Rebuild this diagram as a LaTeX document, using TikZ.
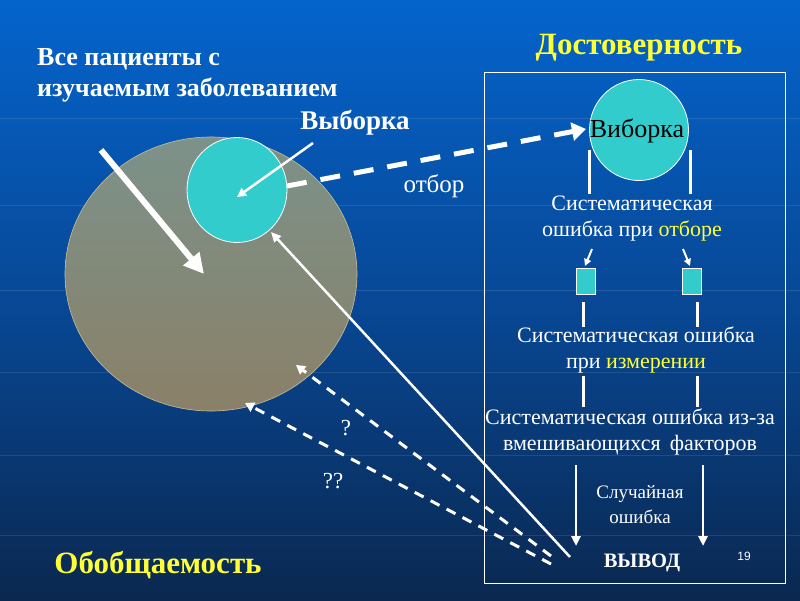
\documentclass[tikz,border=0pt]{standalone}
\usepackage{fontspec}
\setmainfont{Liberation Serif}
\newfontfamily\numfont{Liberation Sans}
\usetikzlibrary{arrows.meta,shapes.geometric}
\definecolor{teal1}{RGB}{51,204,204}
\definecolor{yel}{RGB}{255,255,51}
\definecolor{bgtop}{RGB}{4,100,204}
\definecolor{bgmid}{RGB}{8,72,150}
\definecolor{bgbot}{RGB}{10,40,80}
\tikzset{
  wline/.style={draw=white,line width=3pt},
  warrow/.style={draw=white,line width=2.5pt,-{Triangle[length=9pt,width=9pt]}},
  dasharrow/.style={draw=white,line width=3pt,dash pattern=on 10pt off 8pt,-{Triangle[length=9pt,width=10pt]}},
  wtext/.style={text=white,font=\fontsize{22}{26}\selectfont,align=center,inner sep=0pt},
  ytitle/.style={text=yel,font=\fontsize{31}{34}\selectfont\bfseries,inner sep=0pt},
  tealbox/.style={fill=teal1,draw=white,line width=0.8pt}
}
\begin{document}
\begin{tikzpicture}[x=1pt,y=-1pt]
\useasboundingbox (0,0) rectangle (800,600);
\shade[top color=bgtop,bottom color=bgbot,middle color=bgmid] (0,0) rectangle (800,600);
\foreach \yy in {118,205,290,372,455,535}
  \draw[white,opacity=0.1,line width=0.8pt] (0,\yy) -- (800,\yy);
% big ellipse
\shade[top color={rgb,255:red,124;green,146;blue,138},bottom color={rgb,255:red,138;green,128;blue,104},draw={rgb,255:red,200;green,190;blue,150},line width=0.6pt]
  (211,274) ellipse [x radius=146, y radius=137];
\node[ellipse,tealbox,minimum width=100pt,minimum height=105pt,inner sep=0pt] (small) at (237,190) {};
\coordinate (smallc) at (237,197);
% texts left
\node[text=white,font=\fontsize{26}{31}\selectfont\bfseries,align=left,anchor=west,inner sep=0pt] (all) at (37,75) {Все пациенты с\\изучаемым заболеванием};
\node[text=white,font=\fontsize{27}{30}\selectfont\bfseries,inner sep=0pt] (vyb) at (355,123) {Выборка};
\coordinate (vybs) at (313,143);
\draw[warrow] (vybs) -- (smallc);
% thick arrow
\coordinate (ta) at (101,150);
\coordinate (tb) at (204,274);
\draw[white,line width=6pt,-{Triangle[length=20pt,width=20pt]}] (ta) -- (tb);
% titles
\node[ytitle] (dost) at (639,48) {Достоверность};
\node[ytitle] (obob) at (158,565) {Обобщаемость};
% right frame
\draw[white,line width=1pt] (484,72) rectangle (785,583);
\node[ellipse,tealbox,minimum width=99pt,minimum height=101pt,inner sep=0pt] (big2) at (639,130) {};
\node[text=black,font=\fontsize{26}{30}\selectfont,inner sep=0pt] (vib) at (637,131) {Виборка};
% selection dashed
\coordinate (ds) at (287,186);
\coordinate (de) at (586,129);
\draw[draw=white,line width=5pt,dash pattern=on 20pt off 14pt,-{Triangle[length=14pt,width=18pt]}] (ds) -- (de);
\node[wtext,font=\fontsize{25}{28}\selectfont] (otb) at (434,186) {отбор};
% vertical lines under circle
\coordinate (l1a) at (589,150); \coordinate (l1b) at (589,194);
\coordinate (l2a) at (690,150); \coordinate (l2b) at (690,194);
\draw[wline] (l1a) -- (l1b); \draw[wline] (l2a) -- (l2b);
\node[wtext] (s1) at (632,219) {Систематическая\\ошибка при \textcolor{yel}{отборе}};
% small arrows
\coordinate (a1s) at (592,249); \coordinate (a1e) at (585,266);
\coordinate (a2s) at (683,249); \coordinate (a2e) at (690,266);
\draw[draw=white,line width=2pt,-{Triangle[length=7pt,width=7pt]}] (a1s) -- (a1e);
\draw[draw=white,line width=2pt,-{Triangle[length=7pt,width=7pt]}] (a2s) -- (a2e);
\node[tealbox,minimum width=19pt,minimum height=26pt,inner sep=0pt] (b1) at (586,281) {};
\node[tealbox,minimum width=19pt,minimum height=26pt,inner sep=0pt] (b2) at (692,281) {};
\coordinate (v1a) at (583,302); \coordinate (v1b) at (583,327);
\coordinate (v2a) at (697,302); \coordinate (v2b) at (697,327);
\draw[wline] (v1a) -- (v1b); \draw[wline] (v2a) -- (v2b);
\node[wtext] (s2) at (636,350) {Систематическая ошибка\\при \textcolor{yel}{измерении}};
\coordinate (w1a) at (583,376); \coordinate (w1b) at (583,407);
\coordinate (w2a) at (697,376); \coordinate (w2b) at (697,407);
\draw[wline] (w1a) -- (w1b); \draw[wline] (w2a) -- (w2b);
\node[wtext] (s3) at (630,432) {Систематическая ошибка из-за\\вмешивающихся\, факторов};
\coordinate (d1a) at (576,465); \coordinate (d1b) at (576,546);
\coordinate (d2a) at (703,465); \coordinate (d2b) at (703,546);
\draw[draw=white,line width=2.5pt,-{Triangle[length=10pt,width=9pt]}] (d1a) -- (d1b);
\draw[draw=white,line width=2.5pt,-{Triangle[length=10pt,width=9pt]}] (d2a) -- (d2b);
\node[wtext,font=\fontsize{19}{25}\selectfont] (rnd) at (640,505) {Случайная\\ошибка};
\node[wtext,font=\fontsize{20.5}{22}\selectfont\bfseries] (vyv) at (642,563) {ВЫВОД};
\node[text=white,font=\numfont\fontsize{12}{14}\selectfont,inner sep=0pt] (num) at (744,556) {19};
% long line to small circle
\coordinate (ls) at (570,557);
\coordinate (le) at (271,232);
\draw[draw=white,line width=2.5pt,-{Triangle[length=10pt,width=9pt]}] (ls) -- (le);
% dashed returns
\coordinate (q1s) at (551,556);
\coordinate (q1e) at (296,365);
\coordinate (q2s) at (551,564);
\coordinate (q2e) at (245,403);
\draw[dasharrow] (q1s) -- (q1e);
\draw[dasharrow] (q2s) -- (q2e);
\node[wtext,font=\fontsize{23}{25}\selectfont] (q1) at (346,428) {?};
\node[wtext,font=\fontsize{23}{25}\selectfont] (q2) at (333,481) {??};
\end{tikzpicture}
\end{document}
